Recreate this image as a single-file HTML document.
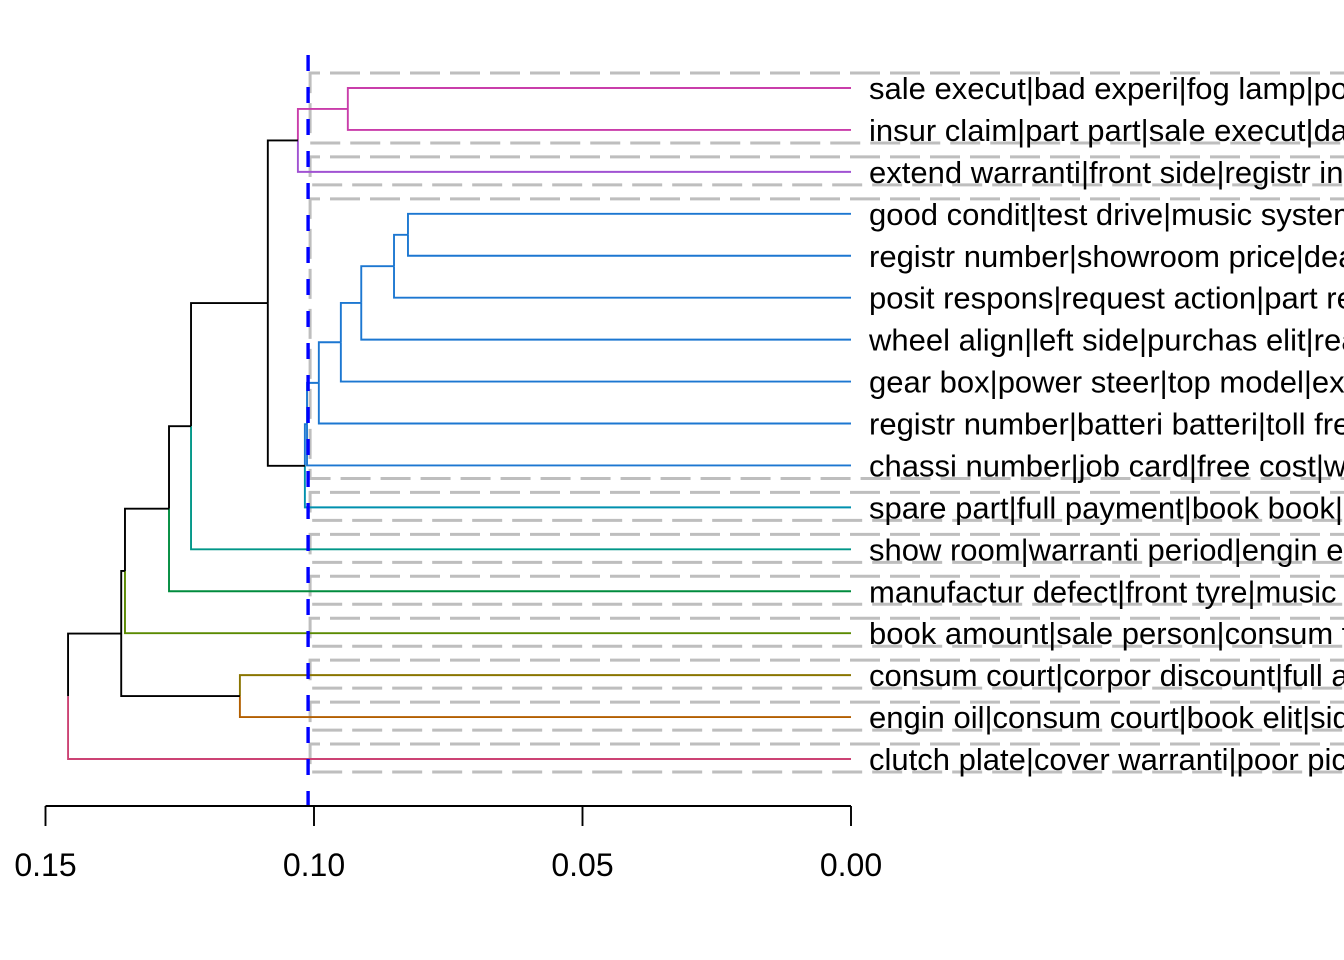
<!DOCTYPE html>
<html><head><meta charset="utf-8"><style>
html,body{margin:0;padding:0;background:#fff;}
svg{display:block;}
text{font-family:"Liberation Sans",Arial,sans-serif;}
</style></head><body>
<svg id="chart" width="1344" height="960" viewBox="0 0 1344 960" xmlns="http://www.w3.org/2000/svg">
<g id="boxes"></g>
<g id="tree"></g>
<g id="cut"></g>
<g id="labels"></g>
<g id="axis"></g>
</svg>
<script>
const leafLabels = [
"sale execut|bad experi|fog lamp|poor servic",
"insur claim|part part|sale execut|dashboard",
"extend warranti|front side|registr insur",
"good condit|test drive|music system",
"registr number|showroom price|dealer",
"posit respons|request action|part replac",
"wheel align|left side|purchas elit|rear",
"gear box|power steer|top model|extra",
"registr number|batteri batteri|toll free",
"chassi number|job card|free cost|week",
"spare part|full payment|book book|car",
"show room|warranti period|engin error",
"manufactur defect|front tyre|music",
"book amount|sale person|consum forum",
"consum court|corpor discount|full amount",
"engin oil|consum court|book elit|side",
"clutch plate|cover warranti|poor pickup"
];
const leafColors = ["#C93DAA","#C93DAA","#A052D2","#1C77D1","#1C77D1","#1C77D1","#1C77D1","#1C77D1","#1C77D1","#1C77D1","#0090AE","#009688","#008B3E","#5A8A00","#8A7500","#B35F00","#CC4374"];
const mergeLeft  = [-1, 1, -4, 3, 4, 5, 6, 7, 8, 2, 10, 11, 12, -15, 13, 15];
const mergeRight = [-2, -3, -5, -6, -7, -8, -9, -10, -11, 9, -12, -13, -14, -16, 14, -17];
const mergeHeights = [0.0937, 0.1030, 0.0825, 0.0851, 0.0912, 0.0950, 0.0991, 0.1013, 0.1017, 0.1086, 0.1229, 0.1270, 0.1352, 0.1138, 0.1359, 0.1458];
const cutHeight = [0.1011];
const tickValues = [0.15, 0.10, 0.05, 0.00];
const tickLabels = ["0.15", "0.10", "0.05", "0.00"];

const NS = "http://www.w3.org/2000/svg";
const X0 = 851, PX = 5370;
function xScale(v){ return X0 - v*PX; }
function yLeaf(i){ return 88 + i*(759-88)/16; }
function mk(tag, attrs, parent){
  const e = document.createElementNS(NS, tag);
  for (const k in attrs) e.setAttribute(k, attrs[k]);
  parent.appendChild(e);
  return e;
}
const nodes = [];
function info(ref){
  if (ref < 0){ const i = -ref-1; return {x: xScale(0), y: yLeaf(i), color: leafColors[i]}; }
  return nodes[ref-1];
}
const tree = document.getElementById('tree');
for (let m=0; m<mergeHeights.length; m++){
  const a = info(mergeLeft[m]), b = info(mergeRight[m]);
  const xn = xScale(mergeHeights[m]);
  const yn = (a.y + b.y)/2;
  [a,b].forEach((c) => {
    const col = c.color || "#000";
    const p = mk('path', {d: `M${xn},${yn} L${xn},${c.y} L${c.x},${c.y}`, fill:'none', stroke: col, 'stroke-width': 1.9}, tree);
    
    
  });
  nodes.push({x: xn, y: yn, color: (a.color && a.color === b.color) ? a.color : null});
}
const boxes = document.getElementById('boxes');
const bx = xScale(cutHeight[0]) + 2;
let start = 0;
for (let i=1; i<=leafColors.length; i++){
  if (i === leafColors.length || leafColors[i] !== leafColors[start]){
    const y1 = yLeaf(start) - 15, y2 = yLeaf(i-1) + 13;
    const r = mk('path', {d:`M1400,${y1} L${bx},${y1} L${bx},${y2} L1400,${y2}`, fill:'none', stroke:'#BEBEBE', 'stroke-width':3, 'stroke-dasharray':'30 10'}, boxes);
    
    
    start = i;
  }
}
const cut = document.getElementById('cut');
const cl = mk('line', {x1: xScale(cutHeight[0]), x2: xScale(cutHeight[0]), y1: 55, y2: 807, stroke:'#0000FF', 'stroke-width':3.4, 'stroke-dasharray':'16 16'}, cut);


const labels = document.getElementById('labels');
leafLabels.forEach((s, i) => {
  const t = mk('text', {x: 869, y: yLeaf(i)+11, 'font-size': 31, fill:'#000'}, labels);
  t.textContent = s;
  
  
});
const axis = document.getElementById('axis');
const al = mk('line', {x1: xScale(tickValues[0]), x2: xScale(tickValues[tickValues.length-1]), y1: 806, y2: 806, stroke:'#000', 'stroke-width':1.9}, axis);


tickValues.forEach((v, i) => {
  const tk = mk('line', {x1: xScale(v), x2: xScale(v), y1: 806, y2: 826, stroke:'#000', 'stroke-width':1.9}, axis);
  
  
  const tl = mk('text', {x: xScale(v), y: 876, 'font-size': 32, 'text-anchor':'middle', fill:'#000'}, axis);
  tl.textContent = tickLabels[i];
  
  
});
</script>
</body></html>
